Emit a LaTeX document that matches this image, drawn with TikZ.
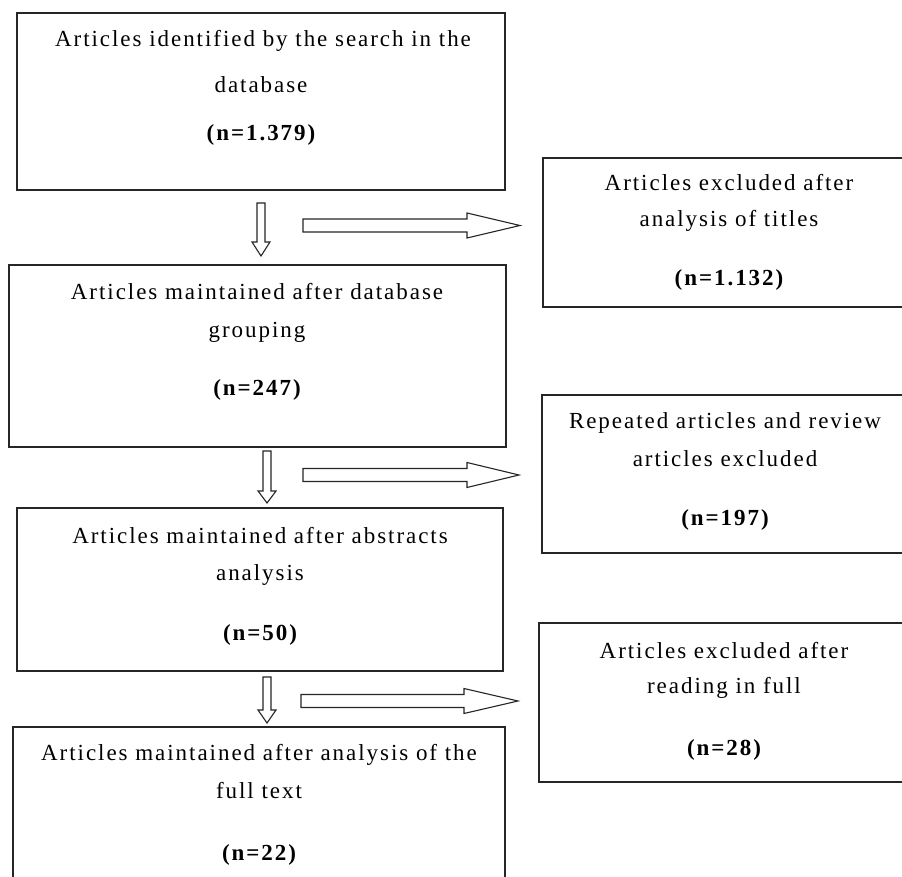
\documentclass[tikz,border=0pt]{standalone}
\usepackage{fontspec}
\newfontfamily\lsfont{Liberation Serif}[LetterSpace=8.5]
\newcommand{\dnarrow}[4]{% cx, top, head start, tip
  \draw[blk] ({#1-4},#2) -- ({#1+4},#2) -- ({#1+4},#3) -- ({#1+9},#3) -- (#1,#4)
    -- ({#1-9},#3) -- ({#1-4},#3) -- cycle;}
\newcommand{\rtarrow}[4]{% y centre, left, head start, tip
  \draw[blk] (#2,{#1-6.5}) -- (#3,{#1-6.5}) -- (#3,{#1-12.5}) -- (#4,#1)
    -- (#3,{#1+12.5}) -- (#3,{#1+6.5}) -- (#2,{#1+6.5}) -- cycle;}
\tikzset{
  box/.style={draw=black!85, line width=1.3pt, anchor=north west, inner sep=0pt, outer sep=0pt},
  txt/.style={anchor=base, inner sep=0pt, font=\lsfont\fontsize{23}{27}\selectfont},
  blk/.style={draw=black!85, line width=1.1pt, fill=white, line join=miter}
}
\begin{document}
\begin{tikzpicture}[x=1pt,y=-1pt]
\useasboundingbox (0,0) rectangle (902,877);
\clip (0,0) rectangle (902,877);
% left column boxes
\node[box, minimum width=488pt, minimum height=177pt] (b1) at (17,13) {};
\node[box, minimum width=497pt, minimum height=182pt] (b2) at (9,265) {};
\node[box, minimum width=486pt, minimum height=163pt] (b3) at (17,508) {};
\node[box, minimum width=492pt, minimum height=200pt] (b4) at (13,727) {};
% right column boxes
\node[box, minimum width=373pt, minimum height=149pt] (r1) at (543,158) {};
\node[box, minimum width=366pt, minimum height=158pt] (r2) at (542,395) {};
\node[box, minimum width=370pt, minimum height=159pt] (r3) at (539,623) {};
% texts
\node[txt] (t1a) at (263,47) {Articles identified by the search in the};
\node[txt] (t1b) at (261,93) {database};
\node[txt] (t1c) at (261,141) {\bfseries (n=1.379)};
\node[txt] (t2a) at (257,300) {Articles maintained after database};
\node[txt] (t2b) at (257,337) {grouping};
\node[txt] (t2c) at (257,395) {\bfseries (n=247)};
\node[txt] (t3a) at (260,543) {Articles maintained after abstracts};
\node[txt] (t3b) at (260,580) {analysis};
\node[txt] (t3c) at (260,640) {\bfseries (n=50)};
\node[txt] (t4a) at (259,760) {Articles maintained after analysis of the};
\node[txt] (t4b) at (259,798) {full text};
\node[txt] (t4c) at (259,860) {\bfseries (n=22)};
\node[txt] (s1a) at (729,191) {Articles excluded after};
\node[txt] (s1b) at (729,227) {analysis of titles};
\node[txt] (s1c) at (729,286) {\bfseries (n=1.132)};
\node[txt] (s2a) at (725,428) {Repeated articles and review};
\node[txt] (s2b) at (725,466) {articles excluded};
\node[txt] (s2c) at (725,525) {\bfseries (n=197)};
\node[txt] (s3a) at (724,658) {Articles excluded after};
\node[txt] (s3b) at (724,693) {reading in full};
\node[txt] (s3c) at (724,755) {\bfseries (n=28)};
% block arrows
\dnarrow{261}{203}{242}{256}
\dnarrow{267}{451}{491}{503}
\dnarrow{267}{677}{710}{723}
\rtarrow{225.5}{303}{467}{520}
\rtarrow{475}{303}{467}{519}
\rtarrow{701}{301}{464}{518}
\end{tikzpicture}
\end{document}
